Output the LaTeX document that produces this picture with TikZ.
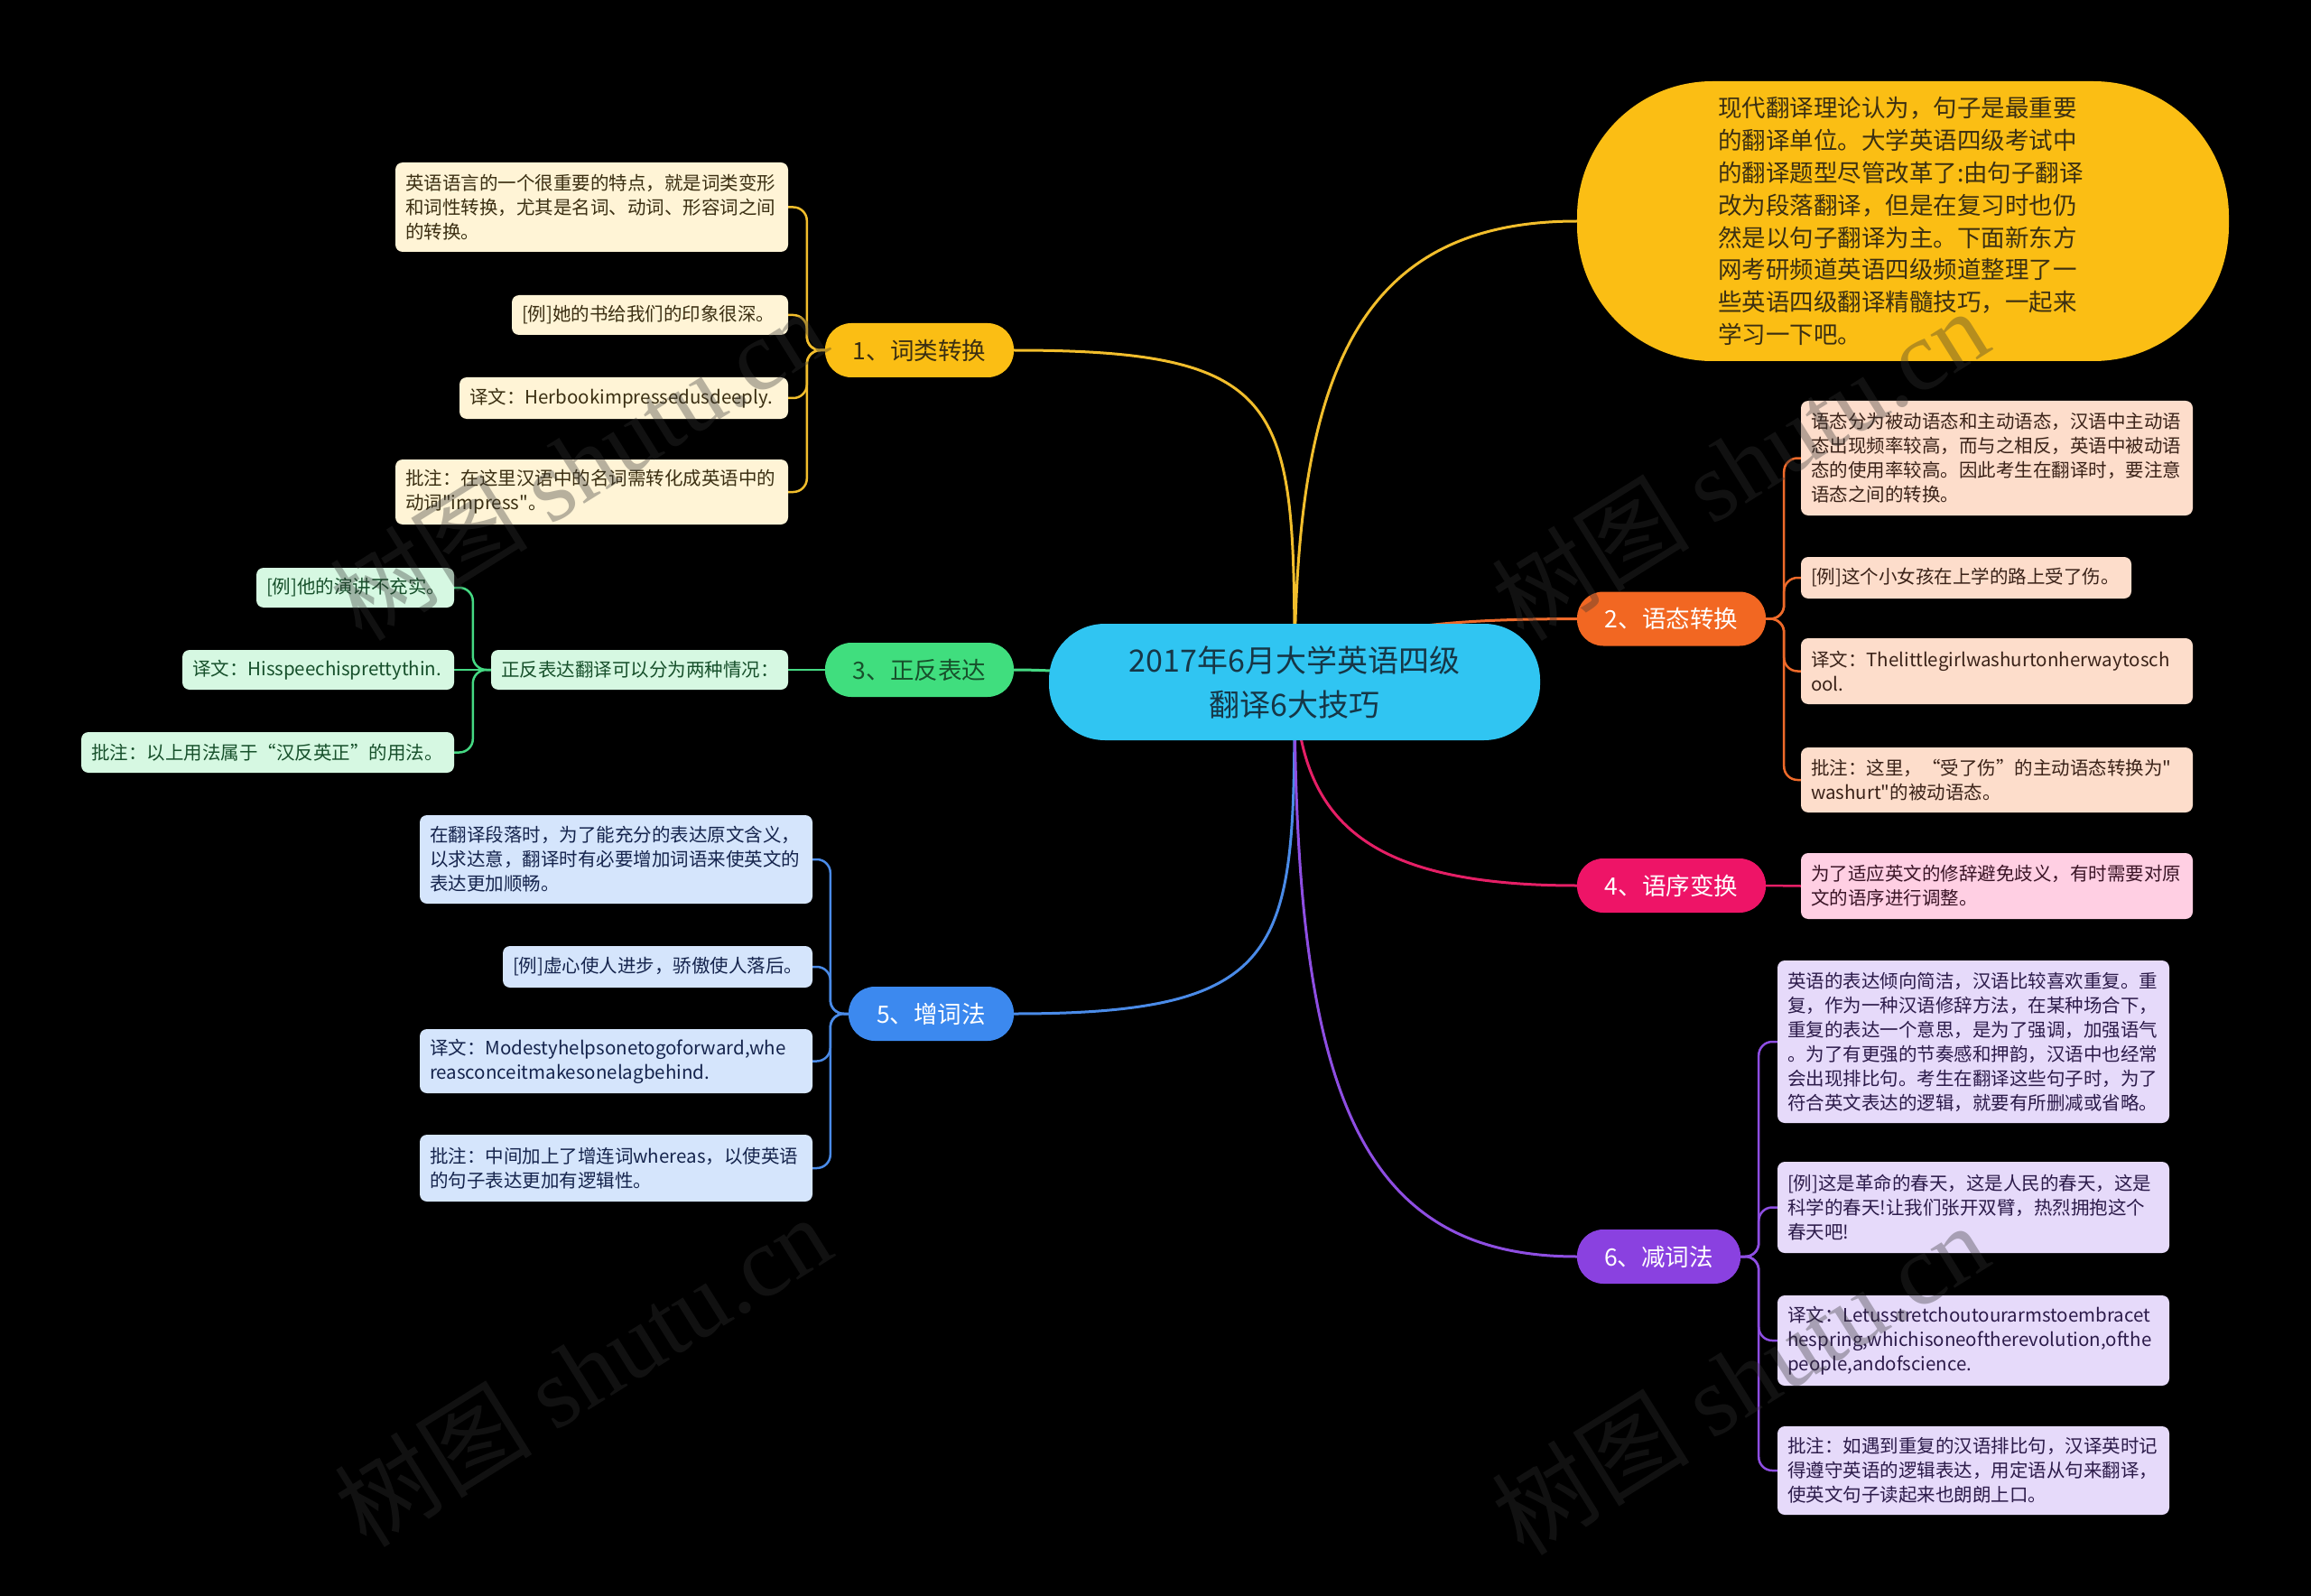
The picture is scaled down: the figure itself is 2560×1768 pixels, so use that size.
\documentclass[tikz,border=0pt]{standalone}
\usepackage{fontspec}
\newfontfamily\cjk{Noto Sans CJK SC}
\newfontfamily\wmlatin{Liberation Serif}
\definecolor{cyel}{HTML}{FBBE14}
\definecolor{cyelline}{HTML}{F2BE2C}
\definecolor{cleaf1}{HTML}{FFF4D6}
\definecolor{ctext1}{HTML}{3B2F12}
\definecolor{corg}{HTML}{F26722}
\definecolor{corgline}{HTML}{EE6A2A}
\definecolor{cleaf2}{HTML}{FDDDCB}
\definecolor{ctext2}{HTML}{3A2218}
\definecolor{cgrn}{HTML}{40DE7E}
\definecolor{cgrnline}{HTML}{45D983}
\definecolor{cleaf3}{HTML}{D6F8E2}
\definecolor{ctext3}{HTML}{17502B}
\definecolor{cred}{HTML}{EE1467}
\definecolor{credline}{HTML}{E51F66}
\definecolor{cleaf4}{HTML}{FFCFE3}
\definecolor{ctext4}{HTML}{3A1426}
\definecolor{cblu}{HTML}{3C89EF}
\definecolor{cbluline}{HTML}{4A8BE8}
\definecolor{cleaf5}{HTML}{D5E5FC}
\definecolor{ctext5}{HTML}{15244D}
\definecolor{cpur}{HTML}{8A41E0}
\definecolor{cpurline}{HTML}{8E4EE2}
\definecolor{cleaf6}{HTML}{E6DAFA}
\definecolor{ctext6}{HTML}{2C1B4A}
\definecolor{croot}{HTML}{30C5F2}
\definecolor{ctextroot}{HTML}{163646}
\definecolor{cwm}{HTML}{333333}
\pgfdeclarelayer{bgl}
\pgfdeclarelayer{edges}
\pgfdeclarelayer{wm}
\pgfsetlayers{bgl,edges,main,wm}
\tikzset{
  leafbox/.style={rectangle, rounded corners=8pt, inner xsep=11pt, inner ysep=0pt,
    align=left, font=\cjk\fontsize{20.5pt}{27pt}\selectfont},
  branchbox/.style={rectangle, rounded corners=29pt, inner sep=0pt, align=center,
    minimum height=60pt, font=\cjk\fontsize{26.5pt}{30pt}\selectfont},
  mainedge/.style={line width=3pt},
  brkedge/.style={line width=2.5pt, rounded corners=15pt},
  wmark/.style={text=cwm, opacity=0.35, rotate=32, font=\cjk\fontsize{110pt}{120pt}\selectfont},
}
\begin{document}
\begin{tikzpicture}[x=1pt,y=-1pt]
\begin{pgfonlayer}{bgl}
\fill[black] (0,0) rectangle (2560,1768);
\end{pgfonlayer}
\useasboundingbox (0,0) rectangle (2560,1768);

% root
\node[rectangle, rounded corners=62pt, fill=croot, text=ctextroot, minimum width=544pt, minimum height=129pt,
  inner sep=0pt, align=center, font=\cjk\fontsize{34pt}{49pt}\selectfont] (root) at (1434,755.5)
  {2017年6月大学英语四级\\翻译6大技巧};

% big intro node
\node[rectangle, rounded corners=150pt, fill=cyel, text=ctext1, minimum width=722pt, minimum height=310pt,
  inner sep=0pt, text width=410pt, align=left, font=\cjk\fontsize{26.5pt}{35.8pt}\selectfont] (big) at (2108,245)
  {现代翻译理论认为，句子是最重要\\的翻译单位。大学英语四级考试中\\的翻译题型尽管改革了:由句子翻译\\改为段落翻译，但是在复习时也仍\\然是以句子翻译为主。下面新东方\\网考研频道英语四级频道整理了一\\些英语四级翻译精髓技巧，一起来\\学习一下吧。};

% branches
\node[branchbox, fill=cyel, text=ctext1, minimum width=209pt] (b1) at (1018.5,388) {1、词类转换};
\node[branchbox, fill=corg, text=white, minimum width=209pt] (b2) at (1851.5,685.5) {2、语态转换};
\node[branchbox, fill=cgrn, text=ctext3, minimum width=209pt] (b3) at (1018.5,742) {3、正反表达};
\node[branchbox, fill=cred, text=white, minimum width=209pt] (b4) at (1851.5,981) {4、语序变换};
\node[branchbox, fill=cblu, text=white, minimum width=183pt] (b5) at (1031.5,1123) {5、增词法};
\node[branchbox, fill=cpur, text=white, minimum width=181pt] (b6) at (1837.5,1392) {6、减词法};

% branch 1 leaves
\node[leafbox, fill=cleaf1, text=ctext1, minimum width=435pt, minimum height=99pt, text width=413pt] (l1a) at (655.5,229.5)
  {英语语言的一个很重要的特点，就是词类变形\\和词性转换，尤其是名词、动词、形容词之间\\的转换。};
\node[leafbox, fill=cleaf1, text=ctext1, minimum width=306pt, minimum height=44pt, text width=284pt] (l1b) at (720,349)
  {[例]她的书给我们的印象很深。};
\node[leafbox, fill=cleaf1, text=ctext1, minimum width=364pt, minimum height=46pt, text width=342pt] (l1c) at (691,441)
  {译文：Herbookimpressedusdeeply.};
\node[leafbox, fill=cleaf1, text=ctext1, minimum width=435pt, minimum height=72pt, text width=413pt] (l1d) at (655.5,545)
  {批注：在这里汉语中的名词需转化成英语中的\\动词"impress"。};

% branch 2 leaves
\node[leafbox, fill=cleaf2, text=ctext2, minimum width=434pt, minimum height=127pt, text width=412pt] (l2a) at (2212,507.5)
  {语态分为被动语态和主动语态，汉语中主动语\\态出现频率较高，而与之相反，英语中被动语\\态的使用率较高。因此考生在翻译时，要注意\\语态之间的转换。};
\node[leafbox, fill=cleaf2, text=ctext2, minimum width=366pt, minimum height=46pt, text width=344pt] (l2b) at (2178,640)
  {[例]这个小女孩在上学的路上受了伤。};
\node[leafbox, fill=cleaf2, text=ctext2, minimum width=434pt, minimum height=73pt, text width=412pt] (l2c) at (2212,743.5)
  {译文：Thelittlegirlwashurtonherwaytosch\\ool.};
\node[leafbox, fill=cleaf2, text=ctext2, minimum width=434pt, minimum height=72pt, text width=412pt] (l2d) at (2212,864)
  {批注：这里，“受了伤”的主动语态转换为"\\washurt"的被动语态。};

% branch 3
\node[leafbox, fill=cleaf3, text=ctext3, minimum width=329pt, minimum height=44pt, text width=307pt] (l3m) at (708.5,742)
  {正反表达翻译可以分为两种情况：};
\node[leafbox, fill=cleaf3, text=ctext3, minimum width=219pt, minimum height=44pt, text width=197pt] (l3a) at (393.5,651)
  {[例]他的演讲不充实。};
\node[leafbox, fill=cleaf3, text=ctext3, minimum width=301pt, minimum height=44pt, text width=279pt] (l3b) at (352.5,742)
  {译文：Hisspeechisprettythin.};
\node[leafbox, fill=cleaf3, text=ctext3, minimum width=413pt, minimum height=45pt, text width=391pt] (l3c) at (296.5,833.5)
  {批注：以上用法属于“汉反英正”的用法。};

% branch 4
\node[leafbox, fill=cleaf4, text=ctext4, minimum width=434pt, minimum height=73pt, text width=412pt] (l4) at (2212,981.5)
  {为了适应英文的修辞避免歧义，有时需要对原\\文的语序进行调整。};

% branch 5 leaves
\node[leafbox, fill=cleaf5, text=ctext5, minimum width=435pt, minimum height=98pt, text width=413pt] (l5a) at (682.5,952)
  {在翻译段落时，为了能充分的表达原文含义，\\以求达意，翻译时有必要增加词语来使英文的\\表达更加顺畅。};
\node[leafbox, fill=cleaf5, text=ctext5, minimum width=343pt, minimum height=46pt, text width=321pt] (l5b) at (728.5,1071)
  {[例]虚心使人进步，骄傲使人落后。};
\node[leafbox, fill=cleaf5, text=ctext5, minimum width=435pt, minimum height=71pt, text width=413pt] (l5c) at (682.5,1175.5)
  {译文：Modestyhelpsonetogoforward,whe\\reasconceitmakesonelagbehind.};
\node[leafbox, fill=cleaf5, text=ctext5, minimum width=435pt, minimum height=74pt, text width=413pt] (l5d) at (682.5,1294)
  {批注：中间加上了增连词whereas，以使英语\\的句子表达更加有逻辑性。};

% branch 6 leaves
\node[leafbox, fill=cleaf6, text=ctext6, minimum width=434pt, minimum height=180pt, text width=412pt] (l6a) at (2186,1154)
  {英语的表达倾向简洁，汉语比较喜欢重复。重\\复，作为一种汉语修辞方法，在某种场合下，\\重复的表达一个意思，是为了强调，加强语气\\。为了有更强的节奏感和押韵，汉语中也经常\\会出现排比句。考生在翻译这些句子时，为了\\符合英文表达的逻辑，就要有所删减或省略。};
\node[leafbox, fill=cleaf6, text=ctext6, minimum width=434pt, minimum height=101pt, text width=412pt] (l6b) at (2186,1337.5)
  {[例]这是革命的春天，这是人民的春天，这是\\科学的春天!让我们张开双臂，热烈拥抱这个\\春天吧!};
\node[leafbox, fill=cleaf6, text=ctext6, minimum width=434pt, minimum height=100pt, text width=412pt] (l6c) at (2186,1485)
  {译文：Letusstretchoutourarmstoembracet\\hespring,whichisoneoftherevolution,ofthe\\people,andofscience.};
\node[leafbox, fill=cleaf6, text=ctext6, minimum width=434pt, minimum height=98pt, text width=412pt] (l6d) at (2186,1629)
  {批注：如遇到重复的汉语排比句，汉译英时记\\得遵守英语的逻辑表达，用定语从句来翻译，\\使英文句子读起来也朗朗上口。};

\begin{pgfonlayer}{edges}
% main connectors
\draw[mainedge, cyelline] (root.center) .. controls (1434,450) and (1434,388) .. (b1.east);
\draw[mainedge, cyelline] (root.center) .. controls (1434,420) and (1500,245) .. (big.west);
\draw[mainedge, corgline] (root.center) .. controls (1480,700) and (1560,686) .. (b2.west);
\draw[mainedge, cgrnline] (root.center) .. controls (1300,755) and (1200,742) .. (b3.east);
\draw[mainedge, credline] (root.center) .. controls (1440,900) and (1500,981) .. (b4.west);
\draw[mainedge, cbluline] (root.center) .. controls (1434,1050) and (1434,1123) .. (b5.east);
\draw[mainedge, cpurline] (root.center) .. controls (1434,1200) and (1500,1392) .. (b6.west);
% branch 1 bracket
\draw[brkedge, cyelline] (b1.west) -- ++(-20,0) |- (l1a.east);
\draw[brkedge, cyelline] (b1.west) -- ++(-20,0) |- (l1b.east);
\draw[brkedge, cyelline] (b1.west) -- ++(-20,0) |- (l1c.east);
\draw[brkedge, cyelline] (b1.west) -- ++(-20,0) |- (l1d.east);
% branch 2 bracket
\draw[brkedge, corgline] (b2.east) -- ++(20,0) |- (l2a.west);
\draw[brkedge, corgline] (b2.east) -- ++(20,0) |- (l2b.west);
\draw[brkedge, corgline] (b2.east) -- ++(20,0) |- (l2c.west);
\draw[brkedge, corgline] (b2.east) -- ++(20,0) |- (l2d.west);
% branch 3
\draw[brkedge, cgrnline] (b3.west) -- (l3m.east);
\draw[brkedge, cgrnline] (l3m.west) -- ++(-20,0) |- (l3a.east);
\draw[brkedge, cgrnline] (l3m.west) -- (l3b.east);
\draw[brkedge, cgrnline] (l3m.west) -- ++(-20,0) |- (l3c.east);
% branch 4
\draw[brkedge, credline] (b4.east) -- (l4.west);
% branch 5 bracket
\draw[brkedge, cbluline] (b5.west) -- ++(-20,0) |- (l5a.east);
\draw[brkedge, cbluline] (b5.west) -- ++(-20,0) |- (l5b.east);
\draw[brkedge, cbluline] (b5.west) -- ++(-20,0) |- (l5c.east);
\draw[brkedge, cbluline] (b5.west) -- ++(-20,0) |- (l5d.east);
% branch 6 bracket
\draw[brkedge, cpurline] (b6.east) -- ++(20,0) |- (l6a.west);
\draw[brkedge, cpurline] (b6.east) -- ++(20,0) |- (l6b.west);
\draw[brkedge, cpurline] (b6.east) -- ++(20,0) |- (l6c.west);
\draw[brkedge, cpurline] (b6.east) -- ++(20,0) |- (l6d.west);
\end{pgfonlayer}

\begin{pgfonlayer}{wm}
\node[wmark] (wm1) at (640,514) {树图 {\wmlatin shutu.cn}};
\node[wmark] (wm2) at (1927,514) {树图 {\wmlatin shutu.cn}};
\node[wmark] (wm3) at (645,1518) {树图 {\wmlatin shutu.cn}};
\node[wmark] (wm4) at (1927,1527) {树图 {\wmlatin shutu.cn}};
\end{pgfonlayer}
\end{tikzpicture}
\end{document}
